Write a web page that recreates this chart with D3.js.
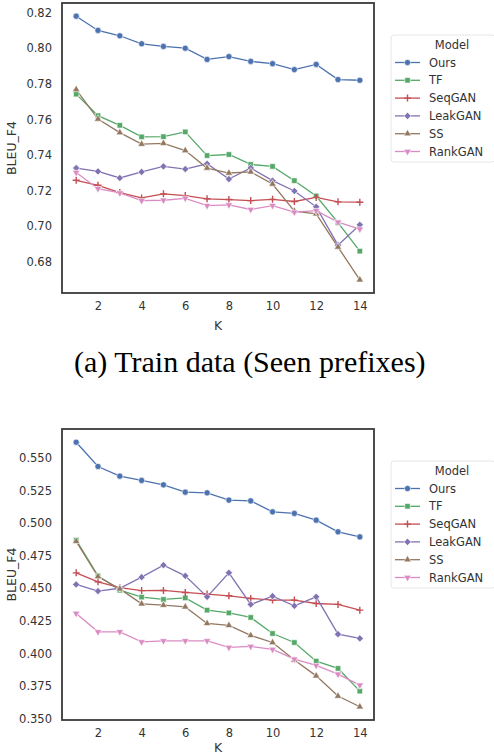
<!DOCTYPE html>
<html lang="en">
<head>
  <meta charset="utf-8">
  <script src="https://d3js.org/d3.v7.min.js"></script>
  <style>
    html, body { margin: 0; padding: 0; background: #fff; }
    svg { display: block; }
    .tick text { font-family: "DejaVu Sans", sans-serif; font-size: 11.5px; fill: #333; }
  </style>
</head>
<body>
  <svg width="494" height="756"></svg>

  <script>
    const width = 494, height = 756;

    // K values on the x axis
    const kValues = [1, 2, 3, 4, 5, 6, 7, 8, 9, 10, 11, 12, 13, 14];

    const models = ["Ours", "TF", "SeqGAN", "LeakGAN", "SS", "RankGAN"];
    const modelColors = ["#4C72B0", "#55A868", "#C44E52", "#8172B2", "#937860", "#DA8BC3"];
    const modelMarkers = ["circle", "square", "plus", "diamond", "triangleUp", "triangleDown"];

    // (a) Train data (Seen prefixes)
    const trainOurs    = [0.818, 0.810, 0.807, 0.8025, 0.801, 0.800, 0.7937, 0.7953, 0.7926, 0.7913, 0.788, 0.7909, 0.7824, 0.782];
    const trainTF      = [0.7742, 0.7621, 0.7567, 0.7502, 0.7503, 0.7530, 0.7397, 0.7403, 0.7347, 0.7336, 0.7256, 0.7170, 0.7020, 0.6860];
    const trainSeqGAN  = [0.7258, 0.7230, 0.7189, 0.7159, 0.7182, 0.7172, 0.7154, 0.7150, 0.7144, 0.7151, 0.7139, 0.7162, 0.7137, 0.7135];
    const trainLeakGAN = [0.7327, 0.7308, 0.7271, 0.7305, 0.7336, 0.7321, 0.7351, 0.7265, 0.7327, 0.7256, 0.7198, 0.7109, 0.6894, 0.7008];
    const trainSS      = [0.7768, 0.7602, 0.7526, 0.7461, 0.7466, 0.7425, 0.7327, 0.7299, 0.7305, 0.7237, 0.7085, 0.7070, 0.6883, 0.6699];
    const trainRankGAN = [0.7302, 0.7211, 0.7187, 0.7144, 0.7146, 0.7157, 0.7116, 0.7120, 0.7094, 0.7116, 0.7079, 0.7088, 0.7023, 0.6984];
    const trainTicks   = [0.68, 0.70, 0.72, 0.74, 0.76, 0.78, 0.80, 0.82];

    // second panel
    const testOurs    = [0.5620, 0.5434, 0.5360, 0.5327, 0.5293, 0.5237, 0.5232, 0.5176, 0.5170, 0.5086, 0.5074, 0.5022, 0.4933, 0.4894];
    const testTF      = [0.4869, 0.4595, 0.4485, 0.4432, 0.4414, 0.4426, 0.4332, 0.4311, 0.4276, 0.4153, 0.4084, 0.3941, 0.3885, 0.3711];
    const testSeqGAN  = [0.4618, 0.4549, 0.4505, 0.4482, 0.4483, 0.4468, 0.4455, 0.4442, 0.4422, 0.4409, 0.4409, 0.4383, 0.4376, 0.4332];
    const testLeakGAN = [0.4529, 0.4478, 0.4500, 0.4585, 0.4677, 0.4595, 0.4434, 0.4618, 0.4376, 0.4439, 0.4365, 0.4434, 0.4148, 0.4115];
    const testSS      = [0.4860, 0.4590, 0.4495, 0.4380, 0.4370, 0.4357, 0.4230, 0.4215, 0.4138, 0.4084, 0.3949, 0.3828, 0.3673, 0.3591];
    const testRankGAN = [0.4307, 0.4166, 0.4166, 0.4089, 0.4097, 0.4097, 0.4097, 0.4046, 0.4054, 0.4031, 0.3956, 0.3908, 0.3841, 0.3757];
    const testTicks   = [0.350, 0.375, 0.400, 0.425, 0.450, 0.475, 0.500, 0.525, 0.550];

    const xTicks = [2, 4, 6, 8, 10, 12, 14];

    const svg = d3.select("svg");
    const frameLeft = 62, frameRight = 374;

    function markerPath(type) {
      switch (type) {
        case "circle": return d3.symbol(d3.symbolCircle, 30)();
        case "square": return d3.symbol(d3.symbolSquare, 30)();
        case "diamond": return d3.symbol(d3.symbolSquare, 26)();
        case "triangleUp": return d3.symbol(d3.symbolTriangle, 24)();
        case "triangleDown": return d3.symbol(d3.symbolTriangle, 24)();
        default: return "M-3.5,0H3.5M0,-3.5V3.5";
      }
    }
    function markerRotate(type) {
      if (type === "diamond") return 45;
      if (type === "triangleDown") return 180;
      return 0;
    }

    function drawMarker(sel, i) {
      const type = modelMarkers[i], color = modelColors[i];
      sel.append("path")
        .attr("d", markerPath(type))
        .attr("fill", type === "plus" ? "none" : color)
        .attr("stroke", type === "plus" ? color : "#fff")
        .attr("stroke-width", type === "plus" ? 1.4 : 0.6);
    }

    function drawPanel(series, yTicks, fmt, top, bottom, legendTop, kOffset) {
      const all = series.flat();
      const [lo, hi] = d3.extent(all);
      const pad = (hi - lo) * 0.05;
      const x = d3.scaleLinear().domain([0.35, 14.65]).range([frameLeft, frameRight]);
      const y = d3.scaleLinear().domain([lo - pad, hi + pad]).range([bottom, top]);

      const g = svg.append("g");

      // axes (no tick marks, seaborn white style)
      const yAxis = g.append("g")
        .attr("transform", `translate(${frameLeft},0)`)
        .call(d3.axisLeft(y).tickValues(yTicks).tickFormat(d3.format(fmt)).tickSize(0).tickPadding(10));
      yAxis.select(".domain").remove();

      const xAxis = g.append("g")
        .attr("transform", `translate(0,${bottom})`)
        .call(d3.axisBottom(x).tickValues(xTicks).tickSize(0).tickPadding(9));
      xAxis.select(".domain").remove();

      g.append("text")
        .attr("transform", `translate(16,${(top + bottom) / 2}) rotate(-90)`)
        .attr("text-anchor", "middle")
        .style("font-family", "DejaVu Sans, sans-serif")
        .style("font-size", "12.5px")
        .attr("fill", "#333")
        .text("BLEU_F4");

      g.append("text")
        .attr("x", (frameLeft + frameRight) / 2)
        .attr("y", bottom + kOffset)
        .attr("text-anchor", "middle")
        .style("font-family", "DejaVu Sans, sans-serif")
        .style("font-size", "12.5px")
        .attr("fill", "#333")
        .text("K");

      const line = d3.line().x((d, j) => x(kValues[j])).y(d => y(d));

      series.forEach((vals, i) => {
        g.append("path")
          .datum(vals)
          .attr("d", line)
          .attr("fill", "none")
          .attr("stroke", modelColors[i])
          .attr("stroke-width", 1.3);
      });

      series.forEach((vals, i) => {
        g.append("g").selectAll("g")
          .data(vals)
          .enter().append("g")
          .attr("transform", (d, j) => `translate(${x(kValues[j])},${y(d)}) rotate(${markerRotate(modelMarkers[i])})`)
          .each(function() { drawMarker(d3.select(this), i); });
      });

      // frame
      g.append("rect")
        .attr("x", frameLeft)
        .attr("y", top)
        .attr("width", frameRight - frameLeft)
        .attr("height", bottom - top)
        .attr("fill", "none")
        .attr("stroke", "#3a3a3a")
        .attr("stroke-width", 1.8);

      // legend
      const leg = g.append("g").attr("transform", `translate(391,${legendTop})`);
      leg.append("rect")
        .attr("width", 104)
        .attr("height", 127)
        .attr("rx", 3)
        .attr("fill", "#fff")
        .attr("stroke", "#e0e0e0")
        .attr("stroke-width", 0.8);

      leg.append("text")
        .attr("x", 61)
        .attr("y", 14)
        .attr("text-anchor", "middle")
        .style("font-family", "DejaVu Sans, sans-serif")
        .style("font-size", "11.5px")
        .attr("fill", "#333")
        .text("Model");

      models.forEach((m, i) => {
        const row = leg.append("g").attr("transform", `translate(0,${27.5 + i * 17.8})`);
        row.append("line")
          .attr("x1", 4).attr("x2", 29)
          .attr("stroke", modelColors[i])
          .attr("stroke-width", 1.3);
        const mk = row.append("g").attr("transform", `translate(16.5,0) rotate(${markerRotate(modelMarkers[i])})`);
        drawMarker(mk, i);
        row.append("text")
          .attr("x", 38)
          .attr("dy", "0.35em")
          .style("font-family", "DejaVu Sans, sans-serif")
          .style("font-size", "11.5px")
          .attr("fill", "#333")
          .text(m);
      });
    }

    drawPanel([trainOurs, trainTF, trainSeqGAN, trainLeakGAN, trainSS, trainRankGAN],
      trainTicks, ".2f", 3, 293, 35, 37);

    drawPanel([testOurs, testTF, testSeqGAN, testLeakGAN, testSS, testRankGAN],
      testTicks, ".3f", 429, 720, 461, 32);

    svg.append("text")
      .attr("x", 74)
      .attr("y", 372)
      .style("font-family", "Liberation Serif, Times New Roman, serif")
      .style("font-size", "30px")
      .attr("fill", "#000")
      .text("(a) Train data (Seen prefixes)");
  </script>
</body>
</html>
